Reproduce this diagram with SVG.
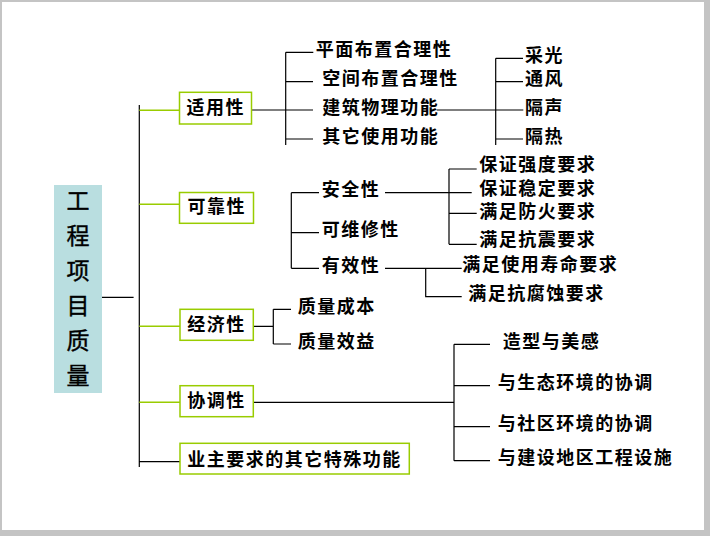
<svg xmlns="http://www.w3.org/2000/svg" width="710" height="536" viewBox="0 0 710 536">
<style>
.t{font-family:"Liberation Serif","Noto Sans CJK SC",sans-serif;font-size:18px;letter-spacing:1.5px;fill:#000;dominant-baseline:central;font-weight:bold}
.m{font-family:"Liberation Serif","Noto Sans CJK SC",sans-serif;font-size:23px;fill:#000;dominant-baseline:central;text-anchor:middle;font-weight:normal;stroke:#000;stroke-width:0.4}
.bx{fill:#fff;stroke:#99CC00;stroke-width:1.5}
.ln{fill:none;stroke:#000;stroke-width:1.2}
.gl{fill:none;stroke:#99CC00;stroke-width:1.4}
</style>
<rect x="0" y="0" width="710" height="536" fill="#c4c4c4"/>
<rect x="2" y="2" width="702" height="528" fill="#fff"/>
<g id="connectors">
<path class="ln" d="M101.5 297.4H133.6M139.3 105V467M139.3 461.7H180"/>
<path class="gl" d="M139.3 110.3H179.5M139.3 204.3H179.5M139.3 326.3H180M139.3 402.3H180"/>
<path class="ln" d="M252 110H313M285.7 52.3V145M285.7 52.3H313.3M285.7 81.7H313M285.7 139H313M436.7 110H523.3M495.7 58.3V145M495.7 58.3H523M495.7 81.7H523M495.7 139H523"/>
<path class="ln" d="M291.3 192.7V268.3M291.3 192.7H319M291.3 232.7H319M291.3 268.3H319M385 192.7H471.7M449 169V244.3M449 169H476.7M449 213.3H476.7M449 244.3H476.7M385 268.3H461.7M425.7 268.3V296.7H461.7"/>
<path class="ln" d="M253.5 326.3H273.3M273.3 309.3V344M273.3 309.3H291M273.3 344H291"/>
<path class="ln" d="M253.5 402.3H454M454 344.3V460.7M454 344.3H490M454 385.7H490M454 426.7H490M454 460.7H490"/>
</g>
<g id="root">
<rect x="54" y="185" width="48" height="208" fill="#B9DEE0"/>
<text class="m" x="78" y="201">工</text>
<text class="m" x="78" y="236">程</text>
<text class="m" x="78" y="271">项</text>
<text class="m" x="78" y="306">目</text>
<text class="m" x="78" y="341">质</text>
<text class="m" x="78" y="376">量</text>
</g>
<g id="n-shiyong"><rect class="bx" x="179.5" y="92.3" width="72" height="31.7"/><text class="t" x="186.5" y="107.7">适用性</text></g>
<g id="n-kekao"><rect class="bx" x="179.5" y="192.5" width="74" height="30.8"/><text class="t" x="187.5" y="206.5">可靠性</text></g>
<g id="n-jingji"><rect class="bx" x="180" y="309.3" width="73.3" height="31"/><text class="t" x="187.3" y="325">经济性</text></g>
<g id="n-xietiao"><rect class="bx" x="180" y="385.7" width="73.3" height="31"/><text class="t" x="187.3" y="400.7">协调性</text></g>
<g id="n-yezhu"><rect class="bx" x="180" y="443.3" width="229.3" height="30.7"/><text class="t" x="187.3" y="459.5">业主要求的其它特殊功能</text></g>
<g id="n-pingmian"><text class="t" x="315.7" y="50">平面布置合理性</text></g>
<g id="n-kongjian"><text class="t" x="322.3" y="79">空间布置合理性</text></g>
<g id="n-jianzhu"><text class="t" x="322.3" y="108">建筑物理功能</text></g>
<g id="n-qita"><text class="t" x="322.3" y="137">其它使用功能</text></g>
<g id="n-caiguang"><text class="t" x="525" y="56">采光</text></g>
<g id="n-tongfeng"><text class="t" x="525" y="79">通风</text></g>
<g id="n-gesheng"><text class="t" x="525" y="108">隔声</text></g>
<g id="n-gere"><text class="t" x="525" y="137">隔热</text></g>
<g id="n-anquan"><text class="t" x="321.7" y="190">安全性</text></g>
<g id="n-keweixiu"><text class="t" x="321.7" y="230">可维修性</text></g>
<g id="n-youxiao"><text class="t" x="321.7" y="266">有效性</text></g>
<g id="n-qiangdu"><text class="t" x="479.3" y="165">保证强度要求</text></g>
<g id="n-wending"><text class="t" x="479.3" y="189.3">保证稳定要求</text></g>
<g id="n-fanghuo"><text class="t" x="479.3" y="211.7">满足防火要求</text></g>
<g id="n-kangzhen"><text class="t" x="479.3" y="240">满足抗震要求</text></g>
<g id="n-shouming"><text class="t" x="462.3" y="265">满足使用寿命要求</text></g>
<g id="n-fushi"><text class="t" x="468.3" y="294">满足抗腐蚀要求</text></g>
<g id="n-chengben"><text class="t" x="297.7" y="306.7">质量成本</text></g>
<g id="n-xiaoyi"><text class="t" x="297.7" y="341.7">质量效益</text></g>
<g id="n-zaoxing"><text class="t" x="502.7" y="341.7">造型与美感</text></g>
<g id="n-shengtai"><text class="t" x="497.7" y="382.7">与生态环境的协调</text></g>
<g id="n-shequ"><text class="t" x="497.7" y="424">与社区环境的协调</text></g>
<g id="n-sheshi"><text class="t" x="497.7" y="458.3">与建设地区工程设施</text></g>
</svg>
